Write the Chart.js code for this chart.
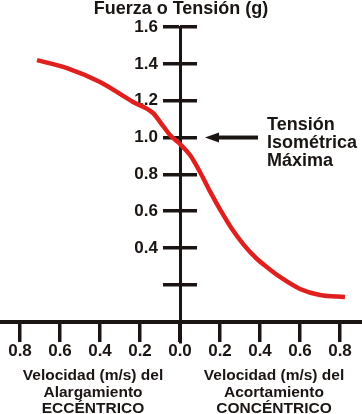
<!DOCTYPE html>
<html>
<head>
<meta charset="utf-8">
<script src="https://cdn.jsdelivr.net/npm/chart.js@4.4.1/dist/chart.umd.min.js"></script>
<style>
  html, body { margin: 0; padding: 0; background: #fff; }
  canvas { display: block; }
</style>
</head>
<body>
<canvas id="chartFuerza" width="362" height="414"></canvas>
<script>
// curva fuerza-velocidad (negativo = alargamiento excentrico)
const velocidad = [-0.715, -0.565, -0.40, -0.235, -0.135, -0.085, -0.05, 0.00, 0.05, 0.10,
  0.15, 0.205, 0.26, 0.32, 0.38, 0.44, 0.50, 0.60, 0.70, 0.825];
const fuerza = [1.42, 1.377, 1.301, 1.193, 1.133, 1.063, 1.014, 0.965, 0.905, 0.813,
  0.708, 0.601, 0.503, 0.416, 0.346, 0.292, 0.243, 0.178, 0.145, 0.134];

const xTicks = [-0.8, -0.6, -0.4, -0.2, 0, 0.2, 0.4, 0.6, 0.8];
const xLabels = ['0.8', '0.6', '0.4', '0.2', '0.0', '0.2', '0.4', '0.6', '0.8'];
const yTicks = [0.2, 0.4, 0.6, 0.8, 1.0, 1.2, 1.4, 1.6];
const yLabels = ['', '0.4', '0.6', '0.8', '1.0', '1.2', '1.4', '1.6'];

const titulo = 'Fuerza o Tensión (g)';
const notaIsometrica = ['Tensión', 'Isométrica', 'Máxima'];
const tensionMaxima = 1.0;
const rotuloEccentrico = ['Velocidad (m/s) del', 'Alargamiento', 'ECCÉNTRICO'];
const rotuloConcentrico = ['Velocidad (m/s) del', 'Acortamiento', 'CONCÉNTRICO'];

const INK = '#1a1512';
const RED = '#e0201e';
const FONT = '"Liberation Sans", Arial, Helvetica, sans-serif';
const Y_MIN = -0.11;
const Y_MAX = 1.6;

const setTicks = (values) => (scale) => {
  scale.ticks = values.map((value) => ({ value }));
};

const textos = {
  id: 'textos',
  afterDraw(chart) {
    const { ctx } = chart;
    const x = chart.scales.x;
    const y = chart.scales.y;
    ctx.save();
    ctx.fillStyle = INK;
    ctx.textBaseline = 'alphabetic';

    ctx.font = `bold 18px ${FONT}`;
    ctx.textAlign = 'center';
    ctx.fillText(titulo, 181, 14);

    // flecha hacia la tension isometrica maxima
    const yMax = y.getPixelForValue(tensionMaxima);
    ctx.fillRect(217, yMax - 2, 41, 4);
    ctx.beginPath();
    ctx.moveTo(205, yMax);
    ctx.lineTo(219, yMax - 5);
    ctx.lineTo(219, yMax + 5);
    ctx.closePath();
    ctx.fill();

    ctx.textAlign = 'left';
    notaIsometrica.forEach((t, i) => ctx.fillText(t, 267, 130 + i * 18));

    ctx.font = `bold 15.5px ${FONT}`;
    ctx.textAlign = 'center';
    rotuloEccentrico.forEach((t, i) => ctx.fillText(t, x.getPixelForValue(-0.435), 380 + i * 16.5));
    rotuloConcentrico.forEach((t, i) => ctx.fillText(t, x.getPixelForValue(0.47), 380 + i * 16.5));
    ctx.restore();
  },
};

const tickFont = { family: FONT, size: 17, weight: 'bold' };

const config = {
  type: 'scatter',
  data: {
    datasets: [
      {
        data: velocidad.map((v, i) => ({ x: v, y: fuerza[i] })),
        showLine: true,
        borderColor: RED,
        borderWidth: 4.5,
        pointRadius: 0,
        cubicInterpolationMode: 'monotone',
      },
    ],
  },
  options: {
    responsive: false,
    animation: false,
    layout: { padding: { top: 27, bottom: 72, left: 0, right: 0 } },
    plugins: {
      legend: { display: false },
      tooltip: { enabled: false },
    },
    scales: {
      x: {
        type: 'linear',
        position: { y: 0 },
        min: -0.9,
        max: 0.91,
        afterBuildTicks: setTicks(xTicks),
        ticks: {
          color: INK,
          font: tickFont,
          padding: 1,
          maxRotation: 0,
          autoSkip: false,
          callback: (v, i) => xLabels[i],
        },
        grid: { drawOnChartArea: false, tickLength: 18, lineWidth: 3.5, color: INK },
        border: { color: INK, width: 4 },
      },
      y: {
        type: 'linear',
        position: { x: 0 },
        min: Y_MIN,
        max: Y_MAX,
        afterBuildTicks: setTicks(yTicks),
        ticks: { display: false },
        grid: { drawOnChartArea: false, tickLength: 16, lineWidth: 3.5, color: INK },
        border: { color: INK, width: 3 },
      },
      // mitad derecha de las marcas del eje vertical
      y2: {
        type: 'linear',
        axis: 'y',
        position: { x: 0.087 },
        min: Y_MIN,
        max: Y_MAX,
        afterBuildTicks: setTicks(yTicks),
        ticks: { display: false },
        grid: { drawOnChartArea: false, tickLength: 17, lineWidth: 3.5, color: INK },
        border: { display: false },
      },
      // rotulos del eje vertical, alineados a la derecha
      yRotulos: {
        type: 'linear',
        axis: 'y',
        position: { x: -0.11 },
        min: Y_MIN,
        max: Y_MAX,
        afterBuildTicks: setTicks(yTicks),
        ticks: {
          color: INK,
          font: tickFont,
          autoSkip: false,
          callback: (v, i) => yLabels[i],
        },
        grid: { display: false },
        border: { display: false },
      },
    },
  },
  plugins: [textos],
};

new Chart(document.querySelector('#chartFuerza'), config);
</script>
</body>
</html>
